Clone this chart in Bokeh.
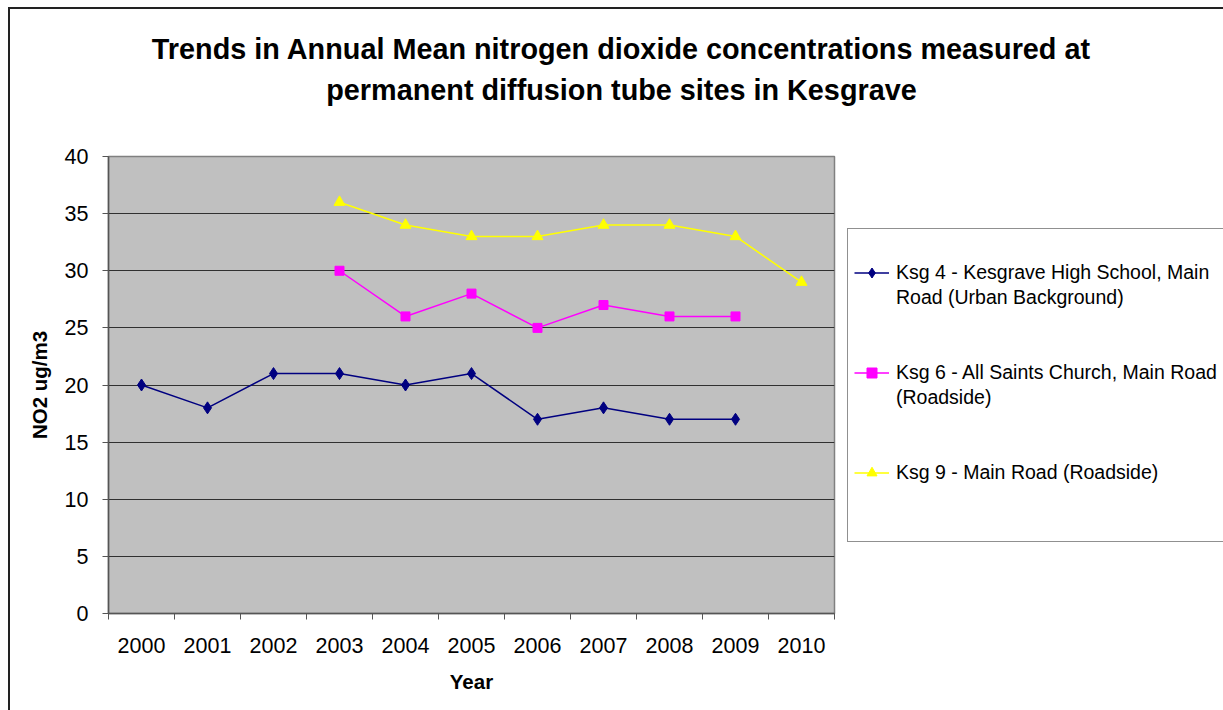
from bokeh.plotting import figure
from bokeh.models import Legend, LegendItem, FixedTicker, Title
from bokeh.embed import file_html
from bokeh.resources import INLINE

# ---- data ----
years = [2000, 2001, 2002, 2003, 2004, 2005, 2006, 2007, 2008, 2009, 2010]
ksg4_years = [2000, 2001, 2002, 2003, 2004, 2005, 2006, 2007, 2008, 2009]
ksg4_values = [20, 18, 21, 21, 20, 21, 17, 18, 17, 17]
ksg6_years = [2003, 2004, 2005, 2006, 2007, 2008, 2009]
ksg6_values = [30, 26, 28, 25, 27, 26, 26]
ksg9_years = [2003, 2004, 2005, 2006, 2007, 2008, 2009, 2010]
ksg9_values = [36, 34, 33, 33, 34, 34, 33, 29]
y_ticks = [0, 5, 10, 15, 20, 25, 30, 35, 40]

series_label_lines = [
    ["Ksg 4 - Kesgrave High School, Main", "Road (Urban Background)"],
    ["Ksg 6 - All Saints Church, Main Road", "(Roadside)"],
    ["Ksg 9 - Main Road (Roadside)"],
]
title_lines = [
    "Trends in Annual Mean nitrogen dioxide concentrations measured at",
    "permanent diffusion tube sites in Kesgrave",
]
x_label = "Year"
y_label = "NO2 ug/m3"

FONT = "Liberation Sans"

p = figure(
    frame_width=726, frame_height=457,
    x_range=(years[0] - 0.5, years[-1] + 0.5), y_range=(y_ticks[0], y_ticks[-1]),
    output_backend="svg", toolbar_location=None,
    min_border_left=98, min_border_right=389, min_border_top=147, min_border_bottom=97,
    background_fill_color="#C0C0C0", border_fill_color="white",
    outline_line_color="#808080", outline_line_width=1.5,
)
p.styles = {"margin-left": "8px", "margin-top": "7px",
            "border-left": "2px solid #222222", "border-top": "2px solid #222222"}

# title: two stacked single-line titles; the added Title sits nearest the plot,
# the figure's own title above it. Padding order here is (left, right, top, bottom)
title_style = dict(align="center", standoff=0, text_font=FONT, text_font_size="28.8px",
                   text_font_style="bold", text_color="black", text_line_height=1.30)
p.title.text = title_lines[0]
p.title.padding = (300, 0, 0, 7)
for k, v in title_style.items():
    setattr(p.title, k, v)
p.add_layout(Title(text=title_lines[1], padding=(300, 0, 0, 51), **title_style), "above")

# grid
p.xgrid.grid_line_color = None
p.ygrid.grid_line_color = "#303030"
p.ygrid.grid_line_width = 1
p.ygrid.ticker = FixedTicker(ticks=y_ticks)

# axes
xa = p.xaxis[0]
xa.ticker = FixedTicker(ticks=years, minor_ticks=[y - 0.5 for y in years] + [years[-1] + 0.5])
xa.major_tick_line_color = None
xa.minor_tick_line_color = "#555555"
xa.minor_tick_out = 6
xa.minor_tick_in = 0
xa.axis_line_color = "#555555"
xa.axis_line_width = 1.5
xa.major_label_text_font = FONT
xa.major_label_text_font_size = "21.5px"
xa.major_label_text_color = "black"
xa.major_label_standoff = 18
xa.axis_label = x_label
xa.axis_label_text_font = FONT
xa.axis_label_text_font_size = "20.5px"
xa.axis_label_text_font_style = "bold"
xa.axis_label_text_color = "black"
xa.axis_label_standoff = 14

ya = p.yaxis[0]
ya.ticker = FixedTicker(ticks=y_ticks)
ya.minor_tick_line_color = None
ya.major_tick_line_color = "#555555"
ya.major_tick_out = 6
ya.major_tick_in = 0
ya.axis_line_color = "#555555"
ya.axis_line_width = 1.5
ya.major_label_text_font = FONT
ya.major_label_text_font_size = "21.5px"
ya.major_label_text_color = "black"
ya.major_label_standoff = 14
ya.axis_label = y_label
ya.axis_label_text_font = FONT
ya.axis_label_text_font_size = "20.5px"
ya.axis_label_text_font_style = "bold"
ya.axis_label_text_color = "black"
ya.axis_label_standoff = 11

# series
l4 = p.line(ksg4_years, ksg4_values, line_color="#000080", line_width=1.5)
s4 = p.scatter(ksg4_years, ksg4_values, marker="diamond", size=12,
               fill_color="#000080", line_color="#000080")
l6 = p.line(ksg6_years, ksg6_values, line_color="#FF00FF", line_width=1.5)
s6 = p.scatter(ksg6_years, ksg6_values, marker="square", size=9,
               fill_color="#FF00FF", line_color="#FF00FF")
l9 = p.line(ksg9_years, ksg9_values, line_color="#FFFF00", line_width=1.5)
s9 = p.scatter(ksg9_years, ksg9_values, marker="triangle", size=11,
               fill_color="#FFFF00", line_color="#FFFF00")

# legend: one row per text line; blank rows give the vertical spacing
def spacer():
    return LegendItem(label="", renderers=[])

items = [spacer()]
for lines, rends in zip(series_label_lines, [[l4, s4], [l6, s6], [l9, s9]]):
    items.append(LegendItem(label=lines[0], renderers=rends))
    for extra in lines[1:]:
        items.append(LegendItem(label=extra, renderers=[]))
    items.extend([spacer(), spacer()])

legend = Legend(
    items=items,
    location=(13, 71),
    border_line_color="#222222", border_line_width=1.5,
    background_fill_color="white", background_fill_alpha=1,
    label_text_font=FONT, label_text_font_size="19.5px", label_text_color="black",
    glyph_width=35, glyph_height=25, label_height=25, label_standoff=7,
    padding=6, spacing=0, margin=0,
)
p.add_layout(legend, "right")

open("out.html", "w").write(file_html(p, INLINE))
